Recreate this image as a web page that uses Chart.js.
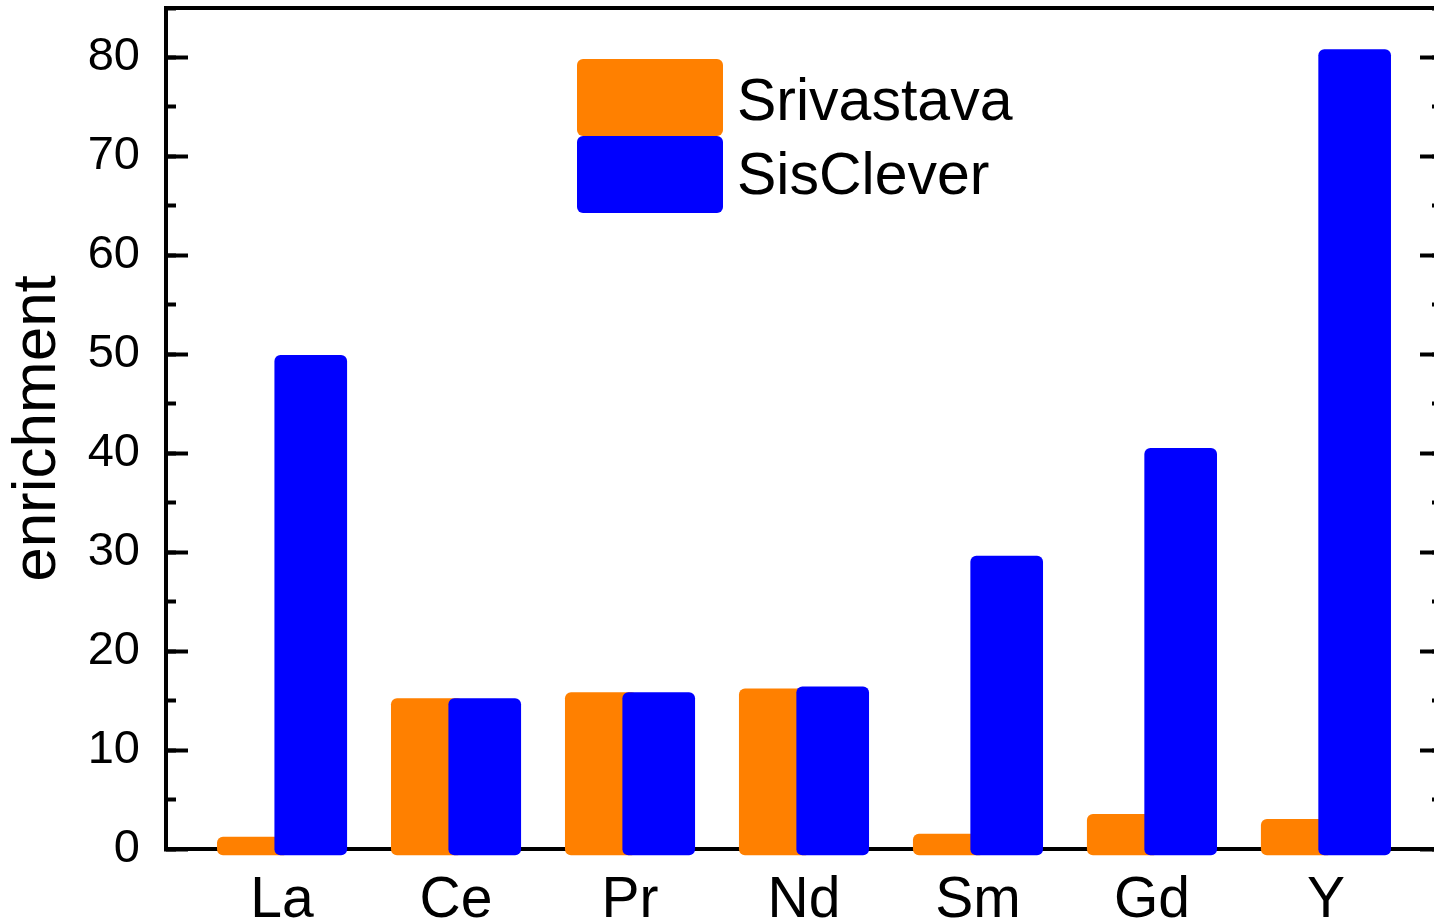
<!DOCTYPE html>
<html>
<head>
<meta charset="utf-8">
<script src="https://cdn.jsdelivr.net/npm/chart.js@4/dist/chart.umd.min.js"></script>
<style>
    body { margin: 0; overflow: hidden; background: #fff; }
</style>
</head>
<body>
<canvas id="enrichmentChart" width="1450" height="923"></canvas>
<script>
// datos
const elementos = ['La', 'Ce', 'Pr', 'Nd', 'Sm', 'Gd', 'Y'];
const srivastava = [1.2, 15.2, 15.8, 16.2, 1.5, 3.5, 3.0];
const sisClever = [49.9, 15.2, 15.8, 16.4, 29.6, 40.5, 80.8];
const ticksY = [0, 10, 20, 30, 40, 50, 60, 70, 80];
const ticksMenoresY = [0, 5, 10, 15, 20, 25, 30, 35, 40, 45, 50, 55, 60, 65, 70, 75, 80, 85];

// las barras se solapan: naranja a la izquierda, azul encima a la derecha
const desplazamiento = 0.165;

const fuente = '"Liberation Sans", Arial, sans-serif';
Chart.defaults.font.family = fuente;
Chart.defaults.color = '#000';

// leyenda apilada dentro del area del grafico
const leyendaPlugin = {
    id: 'leyenda',
    afterDraw(chart) {
        const ctx = chart.ctx;
        const alturas = [77, 77];
        let y = 59;
        chart.data.datasets.forEach((ds, i) => {
            ctx.save();
            ctx.fillStyle = ds.backgroundColor;
            ctx.beginPath();
            ctx.roundRect(577, y, 146, alturas[i], 6);
            ctx.fill();
            ctx.fillStyle = '#000';
            ctx.font = '59px ' + fuente;
            ctx.textBaseline = 'alphabetic';
            ctx.fillText(ds.label, 737, 120 + i * 74);
            ctx.restore();
            y += alturas[i];
        });
    }
};

// sin relleno extra de las etiquetas en el layout
const sinPadding = (s) => {
    s.paddingTop = 0;
    s.paddingBottom = 0;
    s.paddingLeft = 0;
    s.paddingRight = 0;
};

const ejeY = (pos, ticks, largo, conBorde, extra) => Object.assign({
    type: 'linear',
    axis: 'y',
    position: pos,
    min: 0,
    max: 85,
    afterBuildTicks: (s) => { s.ticks = ticks.map(v => ({ value: v })); },
    grid: { drawOnChartArea: false, drawTicks: true, tickLength: largo, tickWidth: 4, tickColor: '#000' },
    border: { display: conBorde, color: '#000', width: 4 },
    ticks: { display: false },
    afterFit: (s) => { s.width = 0; sinPadding(s); }
}, extra);

const ctx = document.getElementById('enrichmentChart').getContext('2d');

new Chart(ctx, {
    type: 'bar',
    data: {
        datasets: [
            {
                label: 'Srivastava',
                data: srivastava.map((v, i) => ({ x: i - desplazamiento, y: v })),
                backgroundColor: '#ff8000',
                order: 1
            },
            {
                label: 'SisClever',
                data: sisClever.map((v, i) => ({ x: i + desplazamiento, y: v })),
                backgroundColor: '#0000ff',
                order: 0
            }
        ]
    },
    options: {
        responsive: false,
        animation: false,
        layout: { padding: { top: 8, right: 8, left: 0, bottom: 0 } },
        datasets: {
            bar: {
                grouped: false,
                barThickness: 72,
                base: -0.6,
                clip: false,
                borderWidth: 0,
                borderRadius: 6,
                borderSkipped: false
            }
        },
        plugins: {
            legend: { display: false },
            tooltip: { enabled: false }
        },
        scales: {
            x: {
                type: 'linear',
                axis: 'x',
                position: 'bottom',
                offset: false,
                min: -0.667,
                max: 6.667,
                z: 1,
                afterBuildTicks: (s) => { s.ticks = elementos.map((e, i) => ({ value: i })); },
                grid: { display: false },
                border: { display: true, color: '#000', width: 4 },
                ticks: {
                    autoSkip: false,
                    maxRotation: 0,
                    padding: 10,
                    font: { size: 57 },
                    callback: (v) => elementos[v]
                },
                afterFit: (s) => { s.height = 74; sinPadding(s); }
            },
            xTop: {
                type: 'linear',
                axis: 'x',
                position: 'top',
                offset: false,
                min: -0.667,
                max: 6.667,
                grid: { display: false },
                border: { display: true, color: '#000', width: 4 },
                ticks: { display: false },
                afterFit: (s) => { s.height = 0; sinPadding(s); }
            },
            y: ejeY('left', ticksY, -22, true, {
                weight: 1,
                ticks: { display: true, padding: 48, font: { size: 47 } },
                title: { display: true, text: 'enrichment', font: { size: 62 }, padding: { top: 1, bottom: 0 } },
                afterFit: (s) => { s.width = 166; sinPadding(s); }
            }),
            yMenor: ejeY('left', ticksMenoresY, -10, false, { weight: 0 }),
            y2: ejeY('right', ticksY, -22, true, { weight: 1 }),
            y2Menor: ejeY('right', ticksMenoresY, -10, false, { weight: 0 })
        }
    },
    plugins: [leyendaPlugin]
});
</script>
</body>
</html>
